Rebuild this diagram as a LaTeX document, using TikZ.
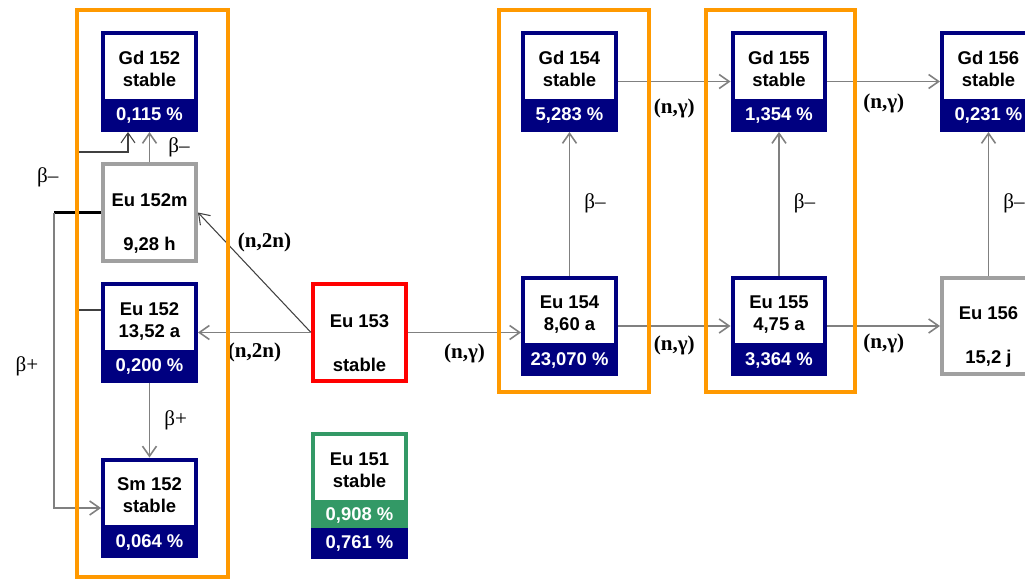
\documentclass[tikz,border=0pt]{standalone}
\usepackage{fontspec}
\setmainfont{Liberation Serif}
\newfontfamily\arialfont{Liberation Sans}
\usetikzlibrary{arrows.meta,positioning,calc}
\definecolor{navyblue}{RGB}{0,0,128}
\definecolor{framegold}{RGB}{255,153,0}
\definecolor{eugreen}{RGB}{51,153,102}
\definecolor{boxgray}{RGB}{160,160,160}
\definecolor{arrowgray}{RGB}{128,128,128}
\definecolor{linedark}{RGB}{64,64,64}

\begin{document}
\begin{tikzpicture}
    [x=0.02cm, y=-0.02cm,
      nuclide/.style={rectangle, fill=white, line width=0.08cm, minimum width=1.86cm, minimum height=1.94cm, inner sep=0pt, align=center, font=\arialfont\bfseries\fontsize{10.5}{12.5}\selectfont},
      natbox/.style={nuclide, draw=navyblue, text depth=0.5cm},
      radbox/.style={nuclide, draw=boxgray, text height=1.56cm},
      abund/.style={fill=navyblue, text=white, anchor=south, minimum width=1.94cm, minimum height=0.66cm, inner sep=0pt, outer sep=0pt, font=\arialfont\bfseries\fontsize{10.5}{12.5}\selectfont},
      conn/.style={draw=arrowgray, line width=0.9pt, -{Straight Barb[length=0.2cm,width=0.28cm]}},
      thinconn/.style={draw=linedark, line width=0.6pt, -{Straight Barb[length=0.2cm,width=0.28cm]}},
      reac/.style={font=\fontsize{12}{14}\selectfont\bfseries, inner sep=0pt},
      decay/.style={font=\fontsize{12}{14}\selectfont, inner sep=0pt},
      frame/.style={draw=framegold, line width=0.08cm}
    ]
    \useasboundingbox (0,0) rectangle (1025,581);
    \clip (0,0) rectangle (1025,581);

    \node[natbox, label={[abund]south:{0,115 \%}}] (gd152) at (149.5,81.5) {Gd 152\\stable};
    \node[radbox] (eu152m) at (149.5,212.5) {Eu 152m\\[12.5pt]9,28 h};
    \node[natbox, label={[abund]south:{0,200 \%}}] (eu152) at (149.5,332.5) {Eu 152\\13,52 a};
    \node[natbox, label={[abund]south:{0,064 \%}}] (sm152) at (149.5,508) {Sm 152\\stable};
    \node[radbox, draw=red] (eu153) at (359.5,332.5) {Eu 153\\[12.5pt]stable};
    \node[nuclide, draw=eugreen, text height=1.68cm, minimum height=1.84cm,
      path picture={\fill[eugreen] (path picture bounding box.south west) rectangle ([yshift=0.52cm]path picture bounding box.south east);},
      label={[abund, anchor=north, minimum height=0.62cm]south:{0,761 \%}}] (eu151) at (359.5,480) {Eu 151\\stable\\[0.22cm]\textcolor{white}{0,908 \%}};
    \node[natbox, label={[abund]south:{5,283 \%}}] (gd154) at (569.5,81.5) {Gd 154\\stable};
    \node[natbox, label={[abund]south:{23,070 \%}}] (eu154) at (569.5,326) {Eu 154\\8,60 a};
    \node[natbox, label={[abund]south:{1,354 \%}}] (gd155) at (779,81.5) {Gd 155\\stable};
    \node[natbox, label={[abund]south:{3,364 \%}}] (eu155) at (779,326) {Eu 155\\4,75 a};
    \node[natbox, label={[abund]south:{0,231 \%}}] (gd156) at (988.5,81.5) {Gd 156\\stable};
    \node[radbox] (eu156) at (988.5,326) {Eu 156\\[12.5pt]15,2 j};

    \draw[conn] (eu152m) -- node[decay, right=0.36cm] {β–} (gd152);
    \draw[conn] (eu152) -- node[decay, right=0.28cm] {β+} (sm152);
    \draw[thinconn] ([yshift=0.45cm]eu152.west) -| node[decay, pos=0.92, left=0.38cm] {β–} ++(-23,-158) -| ([xshift=-0.43cm]gd152.south);
    \draw[line width=0.07cm] (eu152m.west) -- ++(-47,0) coordinate (bplus);
    \draw[conn] (bplus) |- node[decay, pos=0.26, left=0.3cm] {β+} (sm152.west);
    \draw[thinconn] (eu153.west) -- node[reac, pos=0.75, right=0.22cm] {(n,2n)} (eu152m.east);
    \draw[conn] (eu153.west) -- node[reac, yshift=-0.4cm] {(n,2n)} (eu152.east);
    \draw[conn] (eu153.east) -- node[reac, yshift=-0.42cm] {(n,γ)} (eu153.east -| eu154.west);
    \draw[conn] (gd154) -- node[reac, yshift=-0.53cm] {(n,γ)} (gd155);
    \draw[conn] (gd155) -- node[reac, yshift=-0.43cm] {(n,γ)} (gd156);
    \draw[conn] (eu154) -- node[reac, yshift=-0.38cm] {(n,γ)} (eu155);
    \draw[conn] (eu155) -- node[reac, yshift=-0.34cm] {(n,γ)} (eu156);
    \draw[conn] (eu154) -- node[decay, right=0.28cm] {β–} (gd154);
    \draw[conn] (eu155) -- node[decay, right=0.28cm] {β–} (gd155);
    \draw[conn] (eu156) -- node[decay, right=0.28cm] {β–} (gd156);

    \draw[frame] (77,10) rectangle (228,577);
    \draw[frame] (499,10) rectangle (649,392);
    \draw[frame] (706,10) rectangle (855,392);
  \end{tikzpicture}
\end{document}
